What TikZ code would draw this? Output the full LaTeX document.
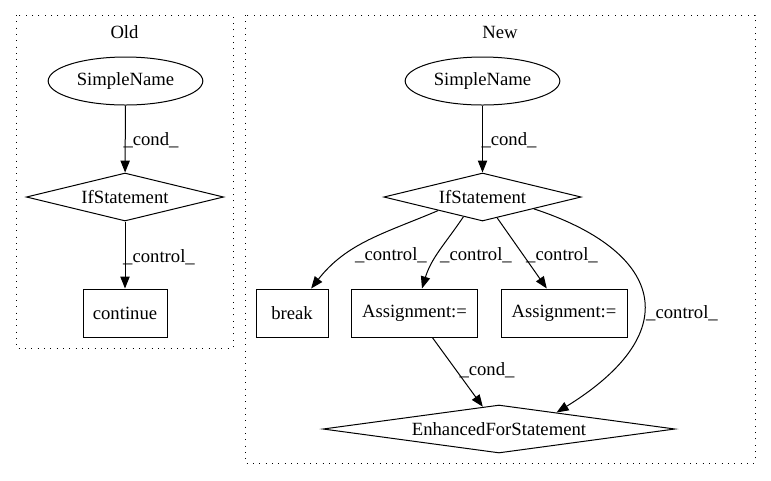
\documentclass[tikz,border=0pt]{standalone}
\usepackage{fontspec}
\setmainfont{Liberation Serif}
\usetikzlibrary{shapes.geometric,arrows.meta}
\begin{document}
\begin{tikzpicture}[x=0.75pt,y=-0.75pt,
  every node/.style={font=\fontsize{14pt}{16pt}\selectfont},
  cluster/.style={draw,line width=0.75pt,dash pattern=on 0.75pt off 4pt},
  ell/.style={draw,ellipse,line width=0.75pt,minimum width=116pt,minimum height=36pt,inner sep=0pt},
  dia/.style={draw,diamond,line width=0.75pt,minimum height=36pt,inner sep=0pt},
  box/.style={draw,rectangle,line width=0.75pt,minimum height=36pt,inner sep=0pt},
  edge/.style={line width=0.75pt,-{Triangle[length=9pt,width=7pt]}},
  elab/.style={inner sep=0pt}]
\useasboundingbox (0,0) rectangle (771,480);
% clusters
\draw[cluster] (16,15) rectangle (233,348);
\node (oldlab) at (124.5,32) {Old};
\draw[cluster] (245,15) rectangle (755,463);
\node (newlab) at (500,32) {New};
% Old nodes
\node[ell] (osn) at (125.5,81) {SimpleName};
\node[dia,shape aspect=4,minimum width=148pt] (oif) at (125,197) {IfStatement};
\node[box,minimum width=63pt] (ocont) at (125,313) {continue};
\draw[edge] (osn) -- (oif);
\draw[edge] (oif) -- (ocont);
\node[elab] (ol1) at (151,140) {\_cond\_};
\node[elab] (ol2) at (159,257) {\_control\_};
% New nodes
\node[ell] (nsn) at (482.5,81) {SimpleName};
\node[dia,shape aspect=4,minimum width=148pt] (nif) at (482.5,197) {IfStatement};
\node[box,minimum width=54pt] (brk) at (292,313) {break};
\node[box,minimum width=94pt] (a1) at (414.5,313) {Assignment:=};
\node[box,minimum width=94.5pt] (a2) at (564,313) {Assignment:=};
\node[dia,shape aspect=7,minimum width=264pt] (efs) at (499,429) {EnhancedForStatement};
\draw[edge] (nsn) -- (nif);
\draw[edge] (nif.197) to[out=203,in=52] (brk);
\draw[edge] (nif.226) to[out=236,in=73] (a1);
\draw[edge] (nif) -- (a2);
\draw[edge] (nif.-13) .. controls (660,250) and (690,330) .. (efs.16);
\draw[edge] (a1) -- (efs);
\node[elab] (nl1) at (509,140) {\_cond\_};
\node[elab] (nl2) at (391,255) {\_control\_};
\node[elab] (nl3) at (476,255) {\_control\_};
\node[elab] (nl4) at (562,255) {\_control\_};
\node[elab] (nl5) at (682,313) {\_control\_};
\node[elab] (nl6) at (487,370) {\_cond\_};
\end{tikzpicture}
\end{document}
